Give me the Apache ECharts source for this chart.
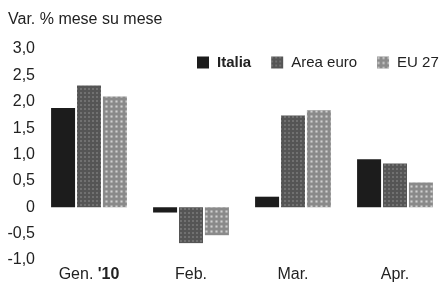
<!DOCTYPE html>
<html>
<head>
<meta charset="utf-8">
<script src="https://cdn.jsdelivr.net/npm/echarts@6/dist/echarts.min.js"></script>
<style>
  html, body { margin: 0; padding: 0; background: #fff; }
  #chart { width: 446px; height: 286px; }
</style>
</head>
<body>
<div id="chart"></div>
<script>
  // dati
  var mesi = ['Gen. \'10', 'Feb.', 'Mar.', 'Apr.']
  var italia = [1.88, -0.1, 0.2, 0.91]
  var areaEuro = [2.31, -0.68, 1.74, 0.83]
  var eu27 = [2.1, -0.53, 1.84, 0.47]

  var myChart = echarts.init(document.getElementById('chart'))
  var font = 'Liberation Sans, Arial, sans-serif'

  option = {
      backgroundColor: '#fff',
      animation: false,
      title: {
          text: 'Var. % mese su mese',
          left: 3,
          top: 7,
          textStyle: { fontFamily: font, fontSize: 16, fontWeight: 'normal', color: '#222' }
      },
      legend: {
          left: 192,
          top: 50,
          itemWidth: 12,
          itemHeight: 12,
          itemGap: 20,
          icon: 'rect',
          data: ['Italia', 'Area euro', 'EU 27'],
          formatter: function(name) {
              return name === 'Italia' ? '{b|' + name + '}' : name
          },
          textStyle: {
              fontFamily: font, fontSize: 15, color: '#222', padding: [0, 0, 0, 3],
              rich: { b: { fontFamily: font, fontSize: 15, fontWeight: 'bold', color: '#222' } }
          }
      },
      grid: {
          left: 38,
          right: -6,
          top: 49,
          bottom: 26
      },
      xAxis: {
          type: 'category',
          data: mesi,
          axisLine: { show: false },
          axisTick: { show: false },
          axisLabel: {
              interval: 0,
              margin: 7,
              fontFamily: font, fontSize: 16, color: '#222',
              formatter: function(v) {
                  return v.indexOf("'10") > -1 ? "Gen. {b|'10}" : v
              },
              rich: { b: { fontFamily: font, fontSize: 16, fontWeight: 'bold', color: '#222' } }
          }
      },
      yAxis: {
          type: 'value',
          min: -1,
          max: 3,
          interval: 0.5,
          splitLine: { show: false },
          axisLabel: {
              margin: 3,
              fontFamily: font, fontSize: 16, color: '#222',
              formatter: function(v) {
                  return v === 0 ? '0' : v.toFixed(1).replace('.', ',')
              }
          }
      },
      series: [{
              name: 'Italia',
              type: 'bar',
              barWidth: 24,
              barGap: '8%',
              data: italia,
              itemStyle: { color: '#1c1c1c' }
          }, {
              name: 'Area euro',
              type: 'bar',
              barWidth: 24,
              data: areaEuro,
              itemStyle: {
                  color: '#555',
                  decal: { symbol: 'rect', symbolSize: 0.6, color: 'rgba(255,255,255,0.55)', dashArrayX: [2, 2], dashArrayY: [2, 2], rotation: 0 }
              }
          }, {
              name: 'EU 27',
              type: 'bar',
              barWidth: 24,
              data: eu27,
              itemStyle: {
                  color: '#8a8a8a',
                  decal: { symbol: 'rect', symbolSize: 0.7, color: 'rgba(255,255,255,0.6)', dashArrayX: [3, 2], dashArrayY: [3, 2], rotation: 0 }
              }
          }
      ]
  }
  myChart.setOption(option)
</script>
</body>
</html>
